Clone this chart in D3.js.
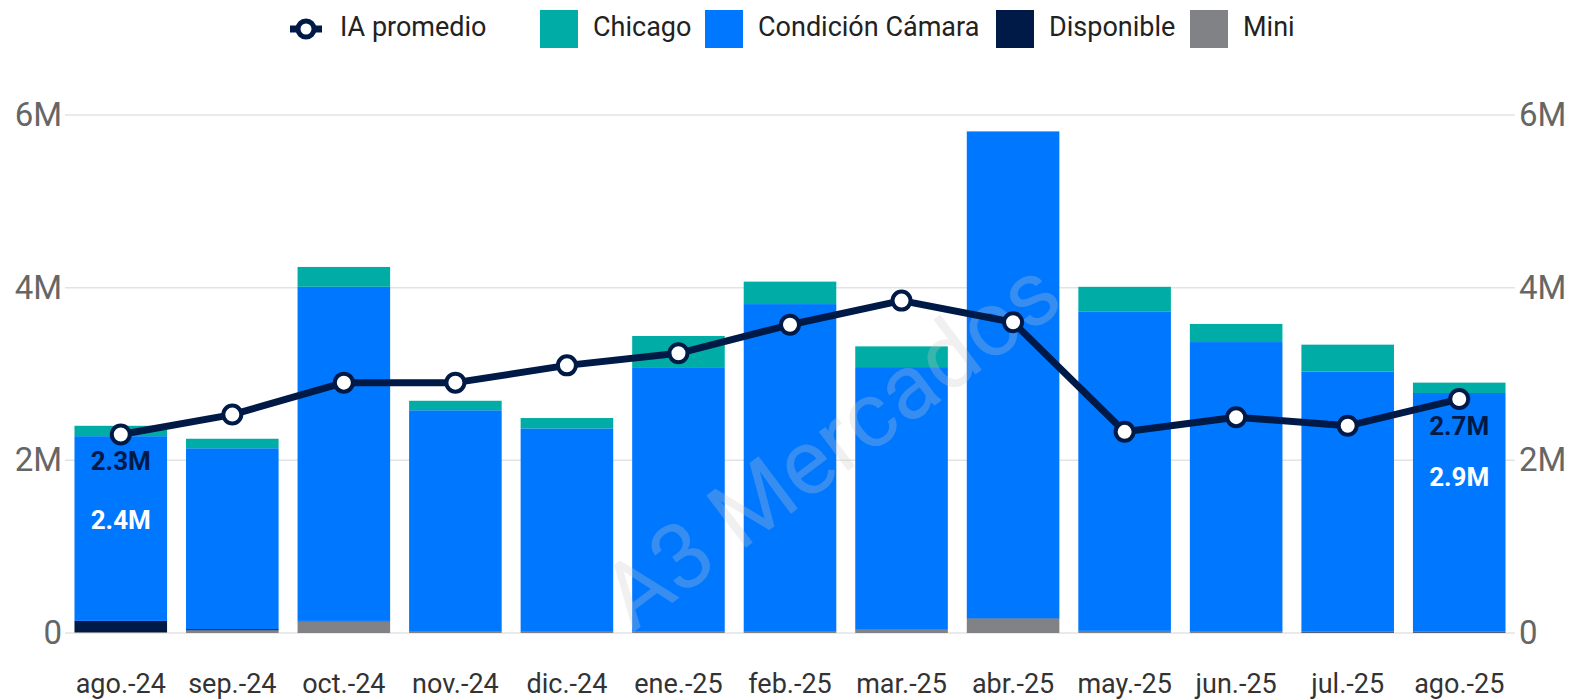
<!DOCTYPE html>
<html>
<head>
<meta charset="utf-8">
<script src="https://cdn.jsdelivr.net/npm/d3@7"></script>
<style>
  body { margin: 0; background: #fff; }
  svg { display: block; font-family: Roboto, "Liberation Sans", sans-serif; }
</style>
</head>
<body>
<svg id="chart" width="1571" height="700"></svg>
<script>
// data (millions)
const months = ["ago.-24", "sep.-24", "oct.-24", "nov.-24", "dic.-24", "ene.-25", "feb.-25",
  "mar.-25", "abr.-25", "may.-25", "jun.-25", "jul.-25", "ago.-25"];
const mini = [0.01, 0.03, 0.135, 0.02, 0.01, 0.01, 0.015, 0.035, 0.165, 0.02, 0.015, 0.005, 0.005];
const disponible = [0.13, 0.015, 0.005, 0.003, 0.005, 0.005, 0.005, 0.005, 0.005, 0.005, 0.005, 0.01, 0.01];
const condicion = [2.14, 2.095, 3.87, 2.557, 2.355, 3.055, 3.79, 3.04, 5.64, 3.695, 3.35, 3.015, 2.765];
const chicago = [0.12, 0.11, 0.23, 0.11, 0.12, 0.37, 0.26, 0.24, 0, 0.29, 0.21, 0.31, 0.12];
const iaPromedio = [2.30, 2.53, 2.90, 2.90, 3.10, 3.24, 3.57, 3.85, 3.60, 2.33, 2.50, 2.40, 2.71];
const yTicks = [0, 2, 4, 6];

const svg = d3.select("#chart");
const plotLeft = 65, plotRight = 1515, plotTop = 115, plotBottom = 633;

const colors = {
  mini: "#808285",
  disponible: "#001a47",
  condicion: "#0077ff",
  chicago: "#00ada6"
};

const rows = months.map((m, i) => ({
  month: m, mini: mini[i], disponible: disponible[i], condicion: condicion[i], chicago: chicago[i],
  total: mini[i] + disponible[i] + condicion[i] + chicago[i]
}));

const x = d3.scaleBand().domain(months).range([plotLeft, plotRight]).paddingInner(0.17).paddingOuter(0.085);
const y = d3.scaleLinear().domain([0, 6]).range([plotBottom, plotTop]);

// gridlines
svg.append("g")
  .selectAll("line")
  .data(yTicks)
  .join("line")
  .attr("x1", plotLeft).attr("x2", plotRight)
  .attr("y1", d => y(d)).attr("y2", d => y(d))
  .attr("stroke", "#e3e3e3")
  .attr("stroke-width", 1.5);

// left and right axes
const fmt = d => d === 0 ? "0" : d + "M";
const axL = svg.append("g")
  .attr("transform", `translate(${plotLeft},0)`)
  .call(d3.axisLeft(y).tickValues(yTicks).tickFormat(fmt).tickSize(0).tickPadding(3));
const axR = svg.append("g")
  .attr("transform", `translate(${plotRight},0)`)
  .call(d3.axisRight(y).tickValues(yTicks).tickFormat(fmt).tickSize(0).tickPadding(-10));
[axL, axR].forEach(a => {
  a.select(".domain").remove();
  a.selectAll("text").attr("font-size", 33).attr("fill", "#666").style("font-family", "Roboto, sans-serif");
});
axR.selectAll("text").attr("x", -10 + 14);

// stacked bars
const keys = ["mini", "disponible", "condicion", "chicago"];
const stacked = d3.stack().keys(keys)(rows);
svg.append("g")
  .selectAll("g")
  .data(stacked)
  .join("g")
  .attr("fill", d => colors[d.key])
  .selectAll("rect")
  .data(d => d)
  .join("rect")
  .attr("x", d => x(d.data.month))
  .attr("width", x.bandwidth())
  .attr("y", d => y(d[1]))
  .attr("height", d => Math.max(0, y(d[0]) - y(d[1])));

// x axis labels
const axB = svg.append("g")
  .attr("transform", `translate(0,${plotBottom})`)
  .call(d3.axisBottom(x).tickSize(0).tickPadding(41));
axB.select(".domain").remove();
axB.selectAll("text").attr("font-size", 27).attr("fill", "#333").style("font-family", "Roboto, sans-serif");

// watermark
svg.append("text")
  .attr("transform", "translate(835,450) rotate(-37)")
  .attr("text-anchor", "middle")
  .attr("dominant-baseline", "middle")
  .attr("font-size", 92)
  .attr("fill", "#c8c8c8")
  .attr("fill-opacity", 0.28)
  .text("A3 Mercados");

// IA promedio line
const cx = d => x(d) + x.bandwidth() / 2;
const line = d3.line().x((d, i) => cx(months[i])).y(d => y(d));
svg.append("path")
  .datum(iaPromedio)
  .attr("d", line)
  .attr("fill", "none")
  .attr("stroke", "#001a47")
  .attr("stroke-width", 7)
  .attr("stroke-linejoin", "round");
svg.append("g")
  .selectAll("circle")
  .data(iaPromedio)
  .join("circle")
  .attr("cx", (d, i) => cx(months[i]))
  .attr("cy", d => y(d))
  .attr("r", 9)
  .attr("fill", "#fff")
  .attr("stroke", "#001a47")
  .attr("stroke-width", 4);

// value labels on first and last month
const fmtM = d => d3.format(".1f")(d) + "M";
[0, months.length - 1].forEach(i => {
  svg.append("text")
    .attr("x", cx(months[i])).attr("y", y(iaPromedio[i]) + 29)
    .attr("text-anchor", "middle").attr("dominant-baseline", "middle")
    .attr("font-size", 26).attr("font-weight", "bold").attr("fill", "#001a47")
    .text(fmtM(iaPromedio[i]));
  svg.append("text")
    .attr("x", cx(months[i])).attr("y", y(rows[i].total) + 96)
    .attr("text-anchor", "middle").attr("dominant-baseline", "middle")
    .attr("font-size", 26).attr("font-weight", "bold").attr("fill", "#fff")
    .text(fmtM(rows[i].total));
});

// legend
const legend = svg.append("g").attr("transform", "translate(0,29)");
const li = legend.append("g").attr("transform", "translate(290,0)");
li.append("line").attr("x1", 0).attr("x2", 32).attr("stroke", "#001a47").attr("stroke-width", 7);
li.append("circle").attr("cx", 16).attr("r", 8).attr("fill", "#fff").attr("stroke", "#001a47").attr("stroke-width", 5);
li.append("text").attr("x", 50).attr("dominant-baseline", "middle").attr("font-size", 27).attr("fill", "#222").text("IA promedio");

const legendItems = [
  { key: "chicago", label: "Chicago", x: 540 },
  { key: "condicion", label: "Condición Cámara", x: 705 },
  { key: "disponible", label: "Disponible", x: 996 },
  { key: "mini", label: "Mini", x: 1190 }
];
const lg = legend.selectAll("g.item")
  .data(legendItems)
  .join("g")
  .attr("class", "item")
  .attr("transform", d => `translate(${d.x},0)`);
lg.append("rect").attr("x", 0).attr("y", -19).attr("width", 38).attr("height", 38).attr("fill", d => colors[d.key]);
lg.append("text").attr("x", 53).attr("dominant-baseline", "middle").attr("font-size", 27).attr("fill", "#222").text(d => d.label);
</script>
</body>
</html>
